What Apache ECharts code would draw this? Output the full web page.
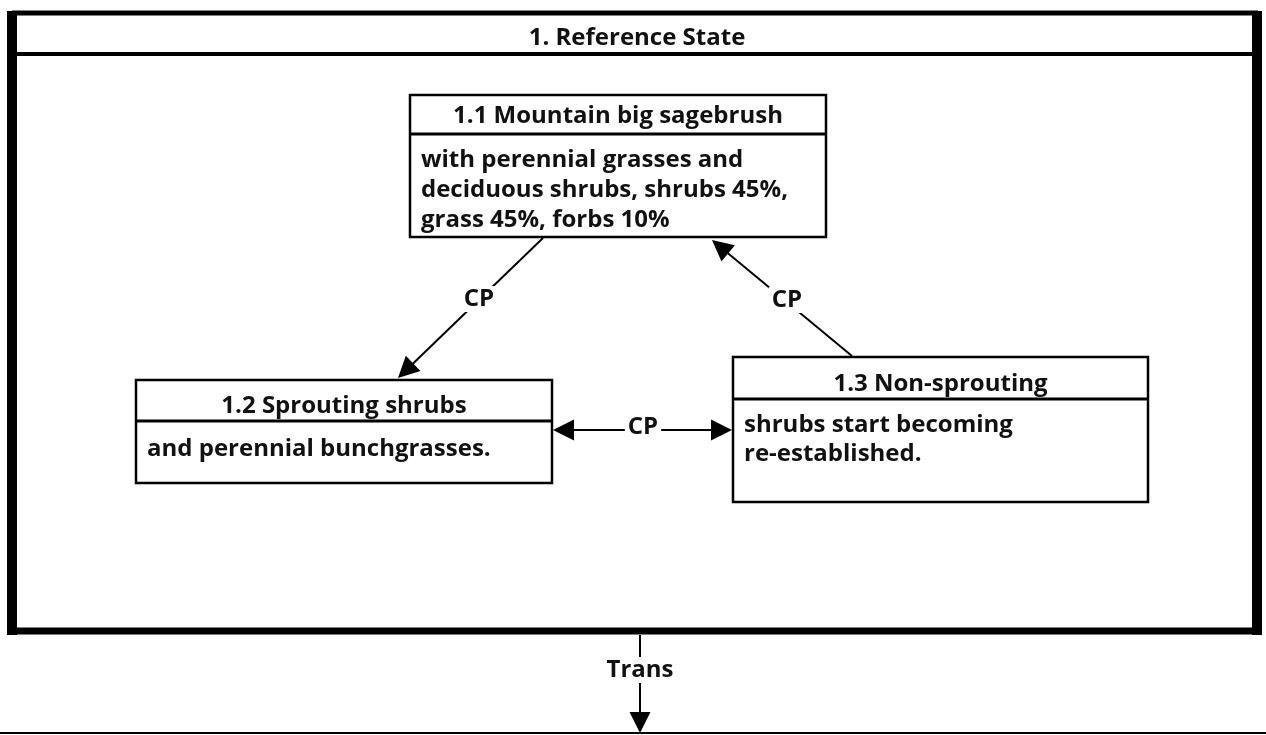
<!DOCTYPE html>
<html>
<head>
<meta charset="utf-8">
<script src="https://cdn.jsdelivr.net/npm/echarts@6/dist/echarts.min.js"></script>
<style>
html,body{margin:0;padding:0;background:#fff;}
#chart{width:1266px;height:735px;}
</style>
</head>
<body>
<div id="chart"></div>
<script>
// ---- content ----
const referenceStateTitle = '1. Reference State';
const stateTitles = ['1.1 Mountain big sagebrush', '1.2 Sprouting shrubs', '1.3 Non-sprouting'];
const stateBodies = [
  ['with perennial grasses and', 'deciduous shrubs, shrubs 45%,', 'grass 45%, forbs 10%'],
  ['and perennial bunchgrasses.'],
  ['shrubs start becoming', 're-established.']
];
const transitionLabels = ['CP', 'CP', 'CP', '', 'Trans'];

// ---- layout (pixel space of the picture) ----
const W = 1266, H = 735;
const FONT = '"Open Sans", Lato, sans-serif';
const FS = 24;
const boxLayout = [
  {x0: 410, y0: 95,  x1: 826,  y1: 237, sep: 134, headY: 116, bodyY: 160, lineH: 30},
  {x0: 136, y0: 380, x1: 552,  y1: 483, sep: 421, headY: 406, bodyY: 449, lineH: 29},
  {x0: 733, y0: 357, x1: 1148, y1: 502, sep: 399, headY: 384, bodyY: 425, lineH: 29}
];
// arrow geometry: start point, tip point, label point
const arrowLayout = [
  {s: [543, 238], t: [398, 378], l: [479, 299]},
  {s: [852, 356], t: [712, 240], l: [787, 300]},
  {s: [643, 430], t: [553, 430], l: [643, 427]},
  {s: [643, 430], t: [732, 430], l: null},
  {s: [640, 635], t: [640, 733], l: [640, 670]}
];
const HEAD = 21;

function shorten(a) {
  const dx = a.t[0] - a.s[0], dy = a.t[1] - a.s[1];
  const len = Math.sqrt(dx * dx + dy * dy);
  return [a.s, [a.t[0] - dx / len * HEAD / 2, a.t[1] - dy / len * HEAD / 2]];
}

const arrowData = transitionLabels.map((lab, i) => ({coords: shorten(arrowLayout[i])}));
const labelIdx = transitionLabels.map((lab, i) => i).filter(i => arrowLayout[i].l);

const chart = echarts.init(document.getElementById('chart'), null, {renderer: 'canvas'});

function txt(s, p, align) {
  return {type: 'text', style: {text: s, x: p[0], y: p[1], align: align || 'center', verticalAlign: 'middle',
    fontFamily: FONT, fontWeight: 'bold', fontSize: FS, fill: '#111'}};
}

function renderFrame(params, api) {
  const c = (x, y) => api.coord([x, y]);
  const line = (x1, y1, x2, y2, w) => {
    const p1 = c(x1, y1), p2 = c(x2, y2);
    return {type: 'line', shape: {x1: p1[0], y1: p1[1], x2: p2[0], y2: p2[1]}, style: {stroke: '#000', lineWidth: w}};
  };
  return {
    type: 'group',
    children: [
      line(12, 13, 1258, 13, 5),
      line(12, 54, 1258, 54, 4),
      line(12, 631, 1258, 631, 7),
      line(12, 11, 12, 635, 10),
      line(1257, 11, 1257, 635, 10),
      line(0, 733, W, 733, 2),
      txt(referenceStateTitle, c(637, 38))
    ]
  };
}

function renderLabel(params, api) {
  const i = api.value(0);
  const p = api.coord(arrowLayout[i].l);
  const t = txt(transitionLabels[i], p);
  t.style.backgroundColor = '#fff';
  t.style.padding = [1, 3];
  return t;
}

function renderBox(params, api) {
  const i = api.value(0);
  const b = boxLayout[i];
  const p0 = api.coord([b.x0, b.y0]), p1 = api.coord([b.x1, b.y1]);
  const ps = api.coord([b.x0, b.sep]);
  const children = [
    {type: 'rect', shape: {x: p0[0], y: p0[1], width: p1[0] - p0[0], height: p1[1] - p0[1]},
      style: {fill: '#fff', stroke: '#000', lineWidth: 2.5}},
    {type: 'line', shape: {x1: p0[0], y1: ps[1], x2: p1[0], y2: ps[1]}, style: {stroke: '#000', lineWidth: 3}},
    txt(stateTitles[i], api.coord([(b.x0 + b.x1) / 2, b.headY]))
  ];
  stateBodies[i].forEach((s, k) => {
    children.push(txt(s, api.coord([b.x0 + 11, b.bodyY + k * b.lineH]), 'left'));
  });
  return {type: 'group', children};
}

chart.setOption({
  animation: false,
  backgroundColor: '#fff',
  grid: {left: 0, right: 0, top: 0, bottom: 0},
  xAxis: {type: 'value', min: 0, max: W, show: false},
  yAxis: {type: 'value', min: 0, max: H, inverse: true, show: false},
  series: [
    {type: 'custom', coordinateSystem: 'cartesian2d', data: [[0]], renderItem: renderFrame, silent: true, z: 1},
    {
      type: 'lines', coordinateSystem: 'cartesian2d', data: arrowData, z: 2,
      symbol: ['none', 'triangle'], symbolSize: HEAD,
      lineStyle: {color: '#000', width: 2, opacity: 1}, silent: true
    },
    {type: 'custom', coordinateSystem: 'cartesian2d', data: stateTitles.map((s, i) => [i]), renderItem: renderBox, silent: true, z: 3},
    {type: 'custom', coordinateSystem: 'cartesian2d', data: labelIdx.map(i => [i]), renderItem: renderLabel, silent: true, z: 4}
  ]
});
</script>
</body>
</html>
